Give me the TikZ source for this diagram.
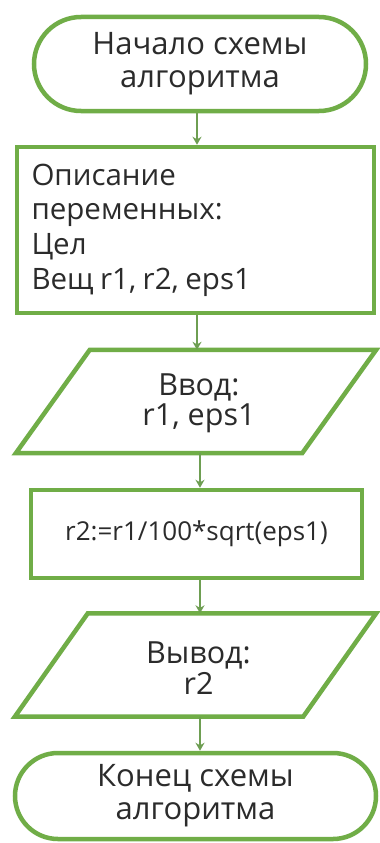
\documentclass[tikz,border=0pt]{standalone}
\usepackage{fontspec}
\setmainfont{Open Sans}
\usetikzlibrary{shapes.misc,arrows.meta,calc}
\definecolor{gr}{HTML}{70AD47}
\definecolor{ar}{HTML}{6E9E52}
\definecolor{tx}{HTML}{2B2B2B}
\begin{document}
\begin{tikzpicture}[x=1pt,y=-1pt,
  shp/.style={draw=gr,line width=4.5pt,fill=white,text=tx,inner sep=0pt},
  term/.style={shp,rounded rectangle,align=center,font=\fontsize{31}{33}\selectfont},
  boxr/.style={shp,rectangle,align=center},
  para/.style={draw=none,inner sep=0pt,text=tx,align=center},
  arr/.style={draw=ar,line width=2pt,-{Stealth[length=8pt,width=9pt]}}]
\useasboundingbox (0,0) rectangle (380,843);
\fill[white] (0,0) rectangle (380,843);
% start
\node[term,minimum width=332pt,minimum height=94pt] (start) at (200,64) {Начало схемы\\алгоритма};
% description
\node[boxr,minimum width=357pt,minimum height=166pt,text width=328pt,inner xsep=14.5pt,align=left,
  font=\fontsize{29.5}{34.7}\selectfont] (desc) at (195.5,230) {Описание\\переменных:\\Цел\\{\spaceskip=6.5pt plus 1pt Вещ r1, r2, eps1}};
% input parallelogram
\node[para,minimum width=360pt,minimum height=103pt] (inp) at (196,401.5) {};
\draw[draw=gr,line width=4.5pt,fill=white] ([xshift=74pt]inp.north west) -- (inp.north east) -- ([xshift=-74pt]inp.south east) -- (inp.south west) -- cycle;
\node[para,font=\fontsize{30.5}{30.5}\selectfont] (inpt) at ([xshift=3pt,yshift=-2pt]inp.center) {Ввод:\\r1, eps1};
% process
\node[boxr,minimum width=331pt,minimum height=88pt,font=\fontsize{26}{30}\selectfont] (proc) at (196.5,534) {r2:=r1/100*sqrt(eps1)};
% output parallelogram
\node[para,minimum width=361pt,minimum height=103pt] (outp) at (195.5,665) {};
\draw[draw=gr,line width=4.5pt,fill=white] ([xshift=73pt]outp.north west) -- (outp.north east) -- ([xshift=-73pt]outp.south east) -- (outp.south west) -- cycle;
\node[para,font=\fontsize{30.5}{31}\selectfont] (outpt) at ([xshift=3pt,yshift=-3pt]outp.center) {Вывод:\\r2};
% end
\node[term,minimum width=361pt,minimum height=86pt] (fin) at (195.5,796) {Конец схемы\\алгоритма};
% arrows
\draw[arr] ([xshift=-3pt]start.south) -- ([xshift=-3pt]start.south |- desc.north);
\draw[arr] ([xshift=1.5pt]desc.south) -- ([xshift=1.5pt]desc.south |- inp.north);
\draw[arr] ([xshift=4pt]inp.south) -- ([xshift=4pt]inp.south |- proc.north);
\draw[arr] ([xshift=3.5pt]proc.south) -- ([xshift=3.5pt]proc.south |- outp.north);
\draw[arr] ([xshift=4.5pt]outp.south) -- ([xshift=4.5pt]outp.south |- fin.north);
\end{tikzpicture}
\end{document}
